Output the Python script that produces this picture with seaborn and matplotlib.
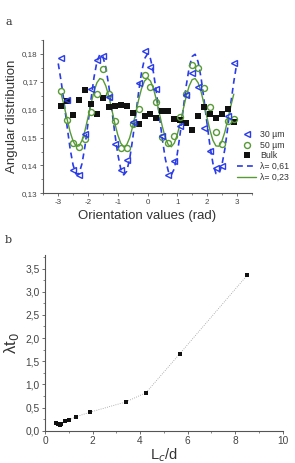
import matplotlib
matplotlib.use("Agg")
import matplotlib.pyplot as plt
from matplotlib.ticker import FuncFormatter, MultipleLocator
from matplotlib.lines import Line2D
import seaborn as sns
import pandas as pd

# ---------------- Panel a data ----------------
orient = [-2.9, -2.7, -2.5, -2.3, -2.1, -1.9, -1.7, -1.5, -1.3, -1.1,
          -0.9, -0.7, -0.5, -0.3, -0.1, 0.1, 0.3, 0.5, 0.7, 0.9,
          1.1, 1.3, 1.5, 1.7, 1.9, 2.1, 2.3, 2.5, 2.7, 2.9]
dist_30um = [0.1785, 0.1636, 0.1382, 0.1364, 0.1512, 0.1676, 0.1778, 0.1793, 0.1645, 0.1476,
             0.1384, 0.1420, 0.1555, 0.1697, 0.1809, 0.1755, 0.1676, 0.1505, 0.1366, 0.1416,
             0.1543, 0.1652, 0.1733, 0.1680, 0.1536, 0.1452, 0.1390, 0.1399, 0.1579, 0.1769]
dist_50um = [0.1666, 0.1564, 0.1482, 0.1465, 0.1494, 0.1590, 0.1656, 0.1746, 0.1655, 0.1558,
             0.1464, 0.1462, 0.1550, 0.1604, 0.1726, 0.1681, 0.1626, 0.1502, 0.1479, 0.1505,
             0.1573, 0.1657, 0.1762, 0.1751, 0.1679, 0.1610, 0.1520, 0.1476, 0.1560, 0.1568]
dist_bulk = [0.1612, 0.1631, 0.1580, 0.1636, 0.1671, 0.1621, 0.1586, 0.1643, 0.1608, 0.1614,
             0.1617, 0.1614, 0.1588, 0.1550, 0.1577, 0.1586, 0.1570, 0.1596, 0.1594, 0.1567,
             0.1564, 0.1552, 0.1526, 0.1576, 0.1610, 0.1583, 0.1571, 0.1586, 0.1602, 0.1556]

fit_x_061 = [-3.0, -2.9, -2.8, -2.7, -2.6, -2.5, -2.4, -2.3, -2.2, -2.1,
             -2.0, -1.9, -1.8, -1.7, -1.6, -1.5, -1.4, -1.3, -1.2, -1.1,
             -1.0, -0.9, -0.8, -0.7, -0.6, -0.5, -0.4, -0.3, -0.2, -0.1,
             0.0, 0.1, 0.2, 0.3, 0.4, 0.5, 0.6, 0.7, 0.8, 0.9,
             1.0, 1.1, 1.2, 1.3, 1.4, 1.5, 1.6, 1.7, 1.8, 1.9,
             2.0, 2.1, 2.2, 2.3, 2.4, 2.5, 2.6, 2.7, 2.8, 2.9, 3.0]
fit_y_061 = [0.1766, 0.1700, 0.1623, 0.1538, 0.1459, 0.1401, 0.1369, 0.1371, 0.1407, 0.1470,
             0.1551, 0.1636, 0.1715, 0.1772, 0.1799, 0.1791, 0.1751, 0.1685, 0.1602, 0.1516,
             0.1441, 0.1388, 0.1366, 0.1379, 0.1423, 0.1493, 0.1577, 0.1662, 0.1734, 0.1783,
             0.1800, 0.1783, 0.1734, 0.1662, 0.1577, 0.1493, 0.1423, 0.1379, 0.1366, 0.1388,
             0.1441, 0.1516, 0.1602, 0.1685, 0.1751, 0.1791, 0.1799, 0.1772, 0.1715, 0.1636,
             0.1551, 0.1470, 0.1407, 0.1371, 0.1369, 0.1401, 0.1459, 0.1538, 0.1623, 0.1700, 0.1766]

fit_x_023 = [-2.9, -2.8, -2.7, -2.6, -2.5, -2.4, -2.3, -2.2, -2.1,
             -2.0, -1.9, -1.8, -1.7, -1.6, -1.5, -1.4, -1.3, -1.2, -1.1,
             -1.0, -0.9, -0.8, -0.7, -0.6, -0.5, -0.4, -0.3, -0.2, -0.1,
             0.0, 0.1, 0.2, 0.3, 0.4, 0.5, 0.6, 0.7, 0.8, 0.9,
             1.0, 1.1, 1.2, 1.3, 1.4, 1.5, 1.6, 1.7, 1.8, 1.9,
             2.0, 2.1, 2.2, 2.3, 2.4, 2.5, 2.6, 2.7, 2.8, 2.9]
fit_y_023 = [0.1656, 0.1613, 0.1565, 0.1520, 0.1487, 0.1469, 0.1470, 0.1490, 0.1526,
             0.1572, 0.1620, 0.1665, 0.1697, 0.1712, 0.1708, 0.1685, 0.1648, 0.1601, 0.1552,
             0.1510, 0.1480, 0.1467, 0.1474, 0.1499, 0.1539, 0.1586, 0.1635, 0.1676, 0.1703,
             0.1713, 0.1703, 0.1676, 0.1635, 0.1586, 0.1539, 0.1499, 0.1474, 0.1467, 0.1480,
             0.1510, 0.1552, 0.1601, 0.1648, 0.1685, 0.1708, 0.1712, 0.1697, 0.1665, 0.1620,
             0.1572, 0.1526, 0.1490, 0.1470, 0.1469, 0.1487, 0.1520, 0.1565, 0.1613, 0.1656]

legend_labels = ["30 µm", "50 µm", "Bulk", "λ= 0,61", "λ= 0,23"]

# ---------------- Panel b data ----------------
ratio_ld = [0.45, 0.55, 0.62, 0.68, 0.83, 1.0, 1.3, 1.9, 3.4, 4.25, 5.67, 8.5]
lambda_t0 = [0.16, 0.15, 0.13, 0.15, 0.21, 0.22, 0.30, 0.40, 0.62, 0.82, 1.66, 3.35]

# ---------------- style ----------------
sns.set_theme(style="ticks")
plt.rcParams["font.family"] = ["Liberation Sans", "DejaVu Sans"]
plt.rcParams["axes.edgecolor"] = "#555555"
plt.rcParams["xtick.color"] = "#555555"
plt.rcParams["ytick.color"] = "#555555"
plt.rcParams["text.color"] = "#333333"
plt.rcParams["axes.labelcolor"] = "#333333"
plt.rcParams["axes.linewidth"] = 0.8

BLUE = "#2a3bea"
GREEN = "#579a36"
BLACK = "#111111"

fig = plt.figure(figsize=(2.95, 4.63), dpi=100)

# ---------------- Panel a ----------------
ax = fig.add_axes([0.147, 0.5825, 0.706, 0.331])
sns.lineplot(x=fit_x_061, y=fit_y_061, ax=ax, color=BLUE, lw=1.2,
             linestyle=(0, (3.5, 2.5)), estimator=None, sort=False)
sns.lineplot(x=fit_x_023, y=fit_y_023, ax=ax, color=GREEN, lw=1.0,
             estimator=None, sort=False)
sns.lineplot(x=orient, y=dist_bulk, ax=ax, color=BLACK, linestyle="", marker="s",
             markersize=3.8, markeredgewidth=0, estimator=None, sort=False)
sns.lineplot(x=orient, y=dist_50um, ax=ax, color=GREEN, linestyle="", marker="o",
             markersize=4.3, markerfacecolor="none", markeredgecolor=GREEN,
             markeredgewidth=1.0, estimator=None, sort=False)
sns.lineplot(x=orient, y=dist_30um, ax=ax, color=BLUE, linestyle="", marker="<",
             markersize=5.0, markerfacecolor="none", markeredgecolor=BLUE,
             markeredgewidth=1.0, estimator=None, sort=False)

ax.set_xlim(-3.5, 3.5)
ax.set_ylim(0.13, 0.185)
ax.xaxis.set_major_locator(MultipleLocator(1))
ax.xaxis.set_minor_locator(MultipleLocator(0.5))
ax.yaxis.set_major_locator(MultipleLocator(0.01))
ax.yaxis.set_minor_locator(MultipleLocator(0.005))
ax.xaxis.set_major_formatter(FuncFormatter(lambda v, p: f"{int(round(v))}"))
ax.yaxis.set_major_formatter(FuncFormatter(lambda v, p: f"{v:.2f}".replace(".", ",")))
ax.tick_params(axis="both", which="major", direction="out", length=2.5, width=0.6,
               labelsize=5.8, pad=1.5, labelcolor="#444444")
ax.tick_params(axis="both", which="minor", direction="out", length=1.5, width=0.5)
sns.despine(ax=ax)
ax.set_xlabel("Orientation values (rad)", fontsize=9.5, labelpad=3)
ax.set_ylabel("Angular distribution", fontsize=9.5, labelpad=3)

handles = [
    Line2D([], [], linestyle="", marker="<", markersize=5.0, markerfacecolor="none",
           markeredgecolor=BLUE, markeredgewidth=1.0),
    Line2D([], [], linestyle="", marker="o", markersize=4.3, markerfacecolor="none",
           markeredgecolor=GREEN, markeredgewidth=1.0),
    Line2D([], [], linestyle="", marker="s", markersize=3.8, color=BLACK, markeredgewidth=0),
    Line2D([], [], color=BLUE, lw=1.2, linestyle=(0, (3.5, 2.5))),
    Line2D([], [], color=GREEN, lw=1.0),
]
ax.legend(handles, legend_labels, loc="upper left", bbox_to_anchor=(237 / 295, 1 - 130 / 463),
          bbox_transform=fig.transFigure, frameon=False, fontsize=6.3, handlelength=2.2,
          handletextpad=0.45, labelspacing=0.2, borderpad=0, borderaxespad=0)

fig.text(5 / 295, 1 - 22 / 463, "a", family="DejaVu Serif", fontsize=8, va="center")

# ---------------- Panel b ----------------
bx = fig.add_axes([0.1525, 0.0698, 0.8055, 0.3792])
sns.lineplot(x=ratio_ld, y=lambda_t0, ax=bx, color="#9a9a9a", lw=0.6, linestyle=":",
             estimator=None, sort=False)
sns.lineplot(x=ratio_ld, y=lambda_t0, ax=bx, color=BLACK, linestyle="", marker="s",
             markersize=3.5, markeredgewidth=0, estimator=None, sort=False)
bx.set_xlim(0, 10)
bx.set_ylim(0, 3.79)
bx.xaxis.set_major_locator(MultipleLocator(2))
bx.xaxis.set_minor_locator(MultipleLocator(1))
bx.yaxis.set_major_locator(MultipleLocator(0.5))
bx.yaxis.set_minor_locator(MultipleLocator(0.25))
bx.xaxis.set_major_formatter(FuncFormatter(lambda v, p: f"{int(round(v))}"))
bx.yaxis.set_major_formatter(FuncFormatter(lambda v, p: f"{v:.1f}".replace(".", ",")))
bx.tick_params(axis="both", which="major", direction="out", length=2.5, width=0.6,
               labelsize=7.3, pad=1.5, labelcolor="#444444")
bx.tick_params(axis="both", which="minor", direction="out", length=1.5, width=0.5)
sns.despine(ax=bx)
bx.set_xlabel("L$_c$/d", fontsize=10.5, labelpad=0)
bx.set_ylabel("λt$_0$", fontsize=12, labelpad=3)

fig.text(5 / 295, 1 - 240 / 463, "b", family="DejaVu Serif", fontsize=8, va="center")

fig.savefig("out.png", dpi=100)
